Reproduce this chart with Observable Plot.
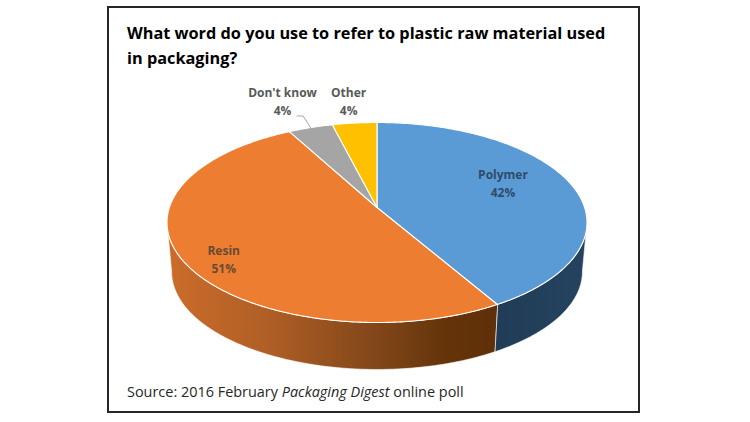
<!DOCTYPE html>
<html>
<head>
<meta charset="utf-8">
<script src="https://cdn.jsdelivr.net/npm/d3@7"></script>
<script src="https://cdn.jsdelivr.net/npm/@observablehq/plot@0.6"></script>
<style>
html,body{margin:0;padding:0;background:#fff;}
body{width:750px;height:422px;position:relative;overflow:hidden;font-family:"Open Sans",sans-serif;}
#frame{position:absolute;left:107px;top:6px;width:533px;height:407px;box-sizing:border-box;border:2px solid #262626;background:#fff;}
#title{height:67px;box-sizing:border-box;padding:13px 0 0 18px;font-weight:700;font-size:16.3px;line-height:25px;color:#000;white-space:pre;}
#chart{height:300px;}
#chart svg{display:block;overflow:visible;}
#caption{padding:7px 0 0 18px;font-size:14.45px;line-height:20px;color:#262626;white-space:pre;}
</style>
</head>
<body>
<div id="frame">
  <div id="title">What word do you use to refer to plastic raw material used
in packaging?</div>
  <div id="chart"></div>
  <div id="caption">Source: 2016 February <i>Packaging Digest</i> online poll</div>
</div>
<script>
const categories = ["Polymer", "Resin", "Don't know", "Other"];
const values = [42, 51, 4, 4];
const topColors = ["#5b9bd5", "#ed7d31", "#a5a5a5", "#ffc000"];
const sideColors = ["url(#sideBlue)", "url(#sideOrange)", "#636363", "#997300"];
const labelColors = ["#2f4b6b", "#6b4a32", "#595959", "#595959"];
const labelX = [0.60, -0.73, -0.45, -0.135];
const labelY = [0.25, -0.505, 1.075, 1.075];

// Perspective settings of the tilted disc
const tilt = 0.15, squash = 0.9775, depth = 0.495, shrink = 0.978;
const stretch = Math.sqrt(1 - tilt * tilt);

function project(angle, level) {
  const X = Math.sin(angle), Y = Math.cos(angle), w = 1 + tilt * Y;
  const s = level ? shrink : 1;
  return {x: s * stretch * X / w, y: s * squash * Y / w - level * depth};
}
function arc(a0, a1) {
  const n = Math.max(2, Math.ceil((a1 - a0) / 0.01));
  return d3.range(n + 1).map(i => a0 + (a1 - a0) * i / n);
}

const total = d3.sum(values);
let run = 0;
const slices = categories.map((name, i) => {
  const start = run;
  run += values[i] / total * 2 * Math.PI;
  return {name, value: values[i], i, start, end: run};
});

const visFrom = Math.acos(-tilt), visTo = 2 * Math.PI - visFrom;

const tops = slices.flatMap(s => [
  {...project(0, 0), i: s.i, x: 0, y: 0},
  ...arc(s.start, s.end).map(a => ({...project(a, 0), i: s.i}))
]);

const sides = slices.flatMap(s => {
  const a0 = Math.max(s.start, visFrom), a1 = Math.min(s.end, visTo);
  if (a1 <= a0) return [];
  const as = arc(a0, a1);
  return [
    ...as.map(a => ({...project(a, 0), i: s.i})),
    ...as.slice().reverse().map(a => ({...project(a, 1), i: s.i}))
  ];
});

const labels = slices.map((s, i) => ({
  x: labelX[i], y: labelY[i],
  text: `${s.name}\n${s.value}%`, color: labelColors[i]
}));

// Leader from the "Don't know" label to its slice
const dk = slices[2], dkRim = project((dk.start + dk.end) / 2, 0);
const leader = [
  {x: -0.381, y: 0.915},
  {x: -0.352, y: 0.915},
  {x: dkRim.x, y: dkRim.y}
];

function defs() {
  const svg = d3.create("svg:g");
  const d = svg.append("defs");
  const mk = (id, stops) => {
    const g = d.append("linearGradient").attr("id", id)
      .attr("x1", 0).attr("x2", 1).attr("y1", 0).attr("y2", 0);
    stops.forEach(([o, c]) => g.append("stop").attr("offset", o).attr("stop-color", c));
  };
  mk("sideOrange", [[0, "#cc6c2b"], [0.3, "#b05f26"], [0.65, "#7f4519"], [0.85, "#643309"], [1, "#5f3009"]]);
  mk("sideBlue", [[0, "#203c56"], [1, "#254360"]]);
  return svg.node();
}

const plot = Plot.plot({
  width: 529, height: 300,
  margin: 0,
  x: {domain: [-1, 1], range: [57.5, 477.5], axis: null},
  y: {domain: [-1, 1], range: [232, 32], axis: null},
  style: {background: "transparent"},
  marks: [
    defs,
    Plot.line(sides, {x: "x", y: "y", z: "i", fill: d => sideColors[d.i], stroke: "#fff", strokeWidth: 0.8, strokeOpacity: 0.75, curve: "linear-closed"}),
    Plot.line(tops, {x: "x", y: "y", z: "i", fill: d => topColors[d.i], stroke: "#fff", strokeWidth: 1.1, curve: "linear-closed"}),
    Plot.line(leader, {x: "x", y: "y", stroke: "#a6a6a6", strokeWidth: 1, curve: "linear"}),
    Plot.text(labels, {x: "x", y: "y", text: "text", fill: "color", fontSize: 12, fontWeight: 700, fontFamily: "Open Sans", lineHeight: 1.5, textAnchor: "middle", frameAnchor: "middle"})
  ]
});
document.getElementById("chart").appendChild(plot);
</script>
</body>
</html>
